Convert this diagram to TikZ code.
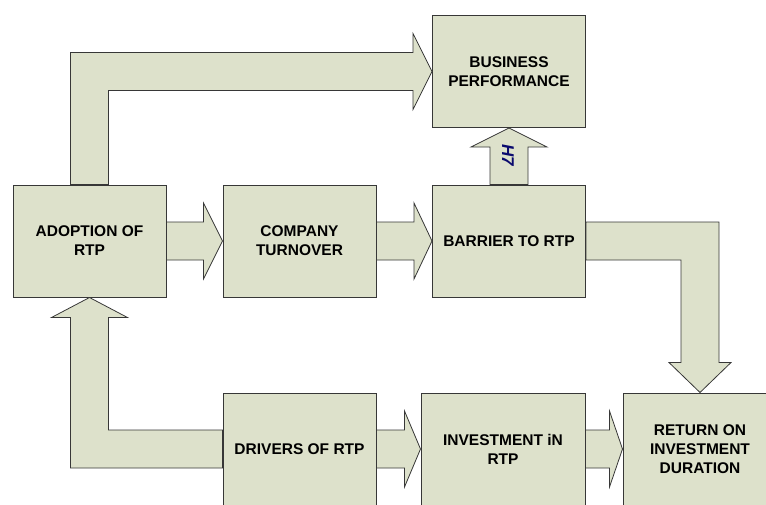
\documentclass[tikz,border=0pt]{standalone}
\usepackage{fontspec}
\setmainfont{Liberation Sans}
\usetikzlibrary{calc}
\definecolor{boxfill}{RGB}{221,225,203}
\definecolor{boxline}{RGB}{55,55,55}
\definecolor{hblue}{RGB}{10,10,110}
% block arrow to the right, from #1 to #2, head length #3
\newcommand{\blockright}[3]{%
  \filldraw[blockarrow] ($(#1)+(0,-\shw)$) -- ($(#2)+(-#3,-\shw)$) -- ($(#2)+(-#3,-\hdw)$) -- (#2)
    -- ($(#2)+(-#3,\hdw)$) -- ($(#2)+(-#3,\shw)$) -- ($(#1)+(0,\shw)$) -- cycle;}
% block arrow upwards, from #1 to #2, head length #3
\newcommand{\blockup}[3]{%
  \filldraw[blockarrow] ($(#1)+(-\shw,0)$) -- ($(#2)+(-\shw,#3)$) -- ($(#2)+(-\hdw,#3)$) -- (#2)
    -- ($(#2)+(\hdw,#3)$) -- ($(#2)+(\shw,#3)$) -- ($(#1)+(\shw,0)$) -- cycle;}
\begin{document}
\begin{tikzpicture}[x=1pt, y=-1pt, line join=miter,
    box/.style={draw=boxline, fill=boxfill, line width=1pt, rectangle, inner sep=0pt,
      minimum width=153pt, minimum height=112pt, align=center,
      font=\bfseries\fontsize{15.5}{19}\selectfont},
    blockarrow/.style={draw=boxline, fill=boxfill, line width=0.8pt}]
	\def\shw{19} \def\hdw{38} % half widths of shaft and head
	\useasboundingbox (0,0) rectangle (766,504);
	\clip (0,0) rectangle (766,504);
	\node[box] (perf) at (509,71.5) {BUSINESS\\PERFORMANCE};
	\node[box] (adopt) at (89.5,241) {ADOPTION OF\\RTP};
	\node[box] (turn) at (299.5,241) {COMPANY\\TURNOVER};
	\node[box] (barr) at (509,241) {BARRIER TO RTP};
	\node[box] (drv) at (299.5,449) {DRIVERS OF RTP};
	\node[box, minimum width=164pt] (inv) at (503,449) {INVESTMENT iN\\RTP};
	\node[box, minimum width=154pt] (ret) at (700,449) {RETURN ON\\INVESTMENT\\DURATION};
	% straight arrows
	\blockright{adopt.east}{turn.west}{19}
	\blockright{turn.east}{barr.west}{18}
	\blockright{drv.east}{inv.west}{16}
	\blockright{inv.east}{ret.west}{13}
	\blockup{barr.north}{perf.south}{19}
	\node[rotate=-90, text=hblue, font=\bfseries\itshape\fontsize{17}{17}\selectfont] (hseven) at (508,155) {H7};
	% bent arrows
	\coordinate (ctop) at (adopt.north |- perf.west);
	\filldraw[blockarrow] ($(adopt.north)+(-\shw,0)$) -- ($(ctop)+(-\shw,-\shw)$) -- ($(perf.west)+(-19,-\shw)$)
		-- ($(perf.west)+(-19,-\hdw)$) -- (perf.west) -- ($(perf.west)+(-19,\hdw)$) -- ($(perf.west)+(-19,\shw)$)
		-- ($(ctop)+(\shw,\shw)$) -- ($(adopt.north)+(\shw,0)$) -- cycle;
	\coordinate (cright) at (ret.north |- barr.east);
	\filldraw[blockarrow] ($(barr.east)+(0,-\shw)$) -- ($(cright)+(\shw,-\shw)$) -- ($(ret.north)+(\shw,-30)$)
		-- ($(ret.north)+(31,-30)$) -- (ret.north) -- ($(ret.north)+(-31,-30)$) -- ($(ret.north)+(-\shw,-30)$)
		-- ($(cright)+(-\shw,\shw)$) -- ($(barr.east)+(0,\shw)$) -- cycle;
	\coordinate (cleft) at (adopt.south |- drv.west);
	\filldraw[blockarrow] ($(drv.west)+(0,-\shw)$) -- ($(cleft)+(\shw,-\shw)$) -- ($(adopt.south)+(\shw,20)$)
		-- ($(adopt.south)+(\hdw,20)$) -- (adopt.south) -- ($(adopt.south)+(-\hdw,20)$) -- ($(adopt.south)+(-\shw,20)$)
		-- ($(cleft)+(-\shw,\shw)$) -- ($(drv.west)+(0,\shw)$) -- cycle;
\end{tikzpicture}
\end{document}
